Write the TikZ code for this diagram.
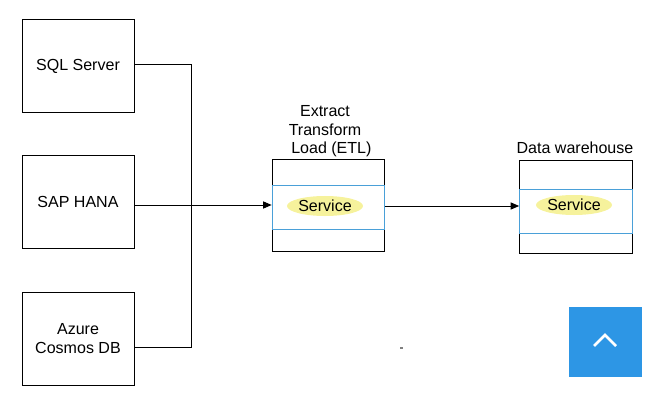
\documentclass[tikz,border=0pt]{standalone}
\usepackage{fontspec}
\setmainfont{Liberation Sans}
\usetikzlibrary{arrows.meta,shapes.geometric}
\definecolor{svcblue}{HTML}{4AA0D8}
\definecolor{hilite}{HTML}{F6F29C}
\definecolor{btnblue}{HTML}{2D96E5}
\tikzset{
  src/.style={draw, line width=0.6pt, minimum width=2.8cm, minimum height=2.33cm,
    align=center, font=\fontsize{11.4}{13.5}\selectfont},
  stage/.style={draw, line width=0.6pt, minimum width=2.82cm, minimum height=2.32cm},
  band/.style={draw=svcblue, line width=0.6pt, minimum width=2.82cm, minimum height=1.1cm},
  svc/.style={ellipse, fill=hilite, inner sep=0pt, minimum width=1.9cm, minimum height=0.5cm,
    font=\fontsize{11.4}{13.5}\selectfont},
  ttl/.style={align=center, font=\fontsize{11.4}{13.2}\selectfont},
  arr/.style={-{Triangle[length=6pt,width=5pt]}, line width=0.6pt}
}
\begin{document}
\begin{tikzpicture}[x=0.025cm,y=-0.025cm]
\useasboundingbox (0,0) rectangle (647,414);

% Sources
\node[src] (sql) at (78,66) {SQL Server};
\node[src] (sap) at (78,202) {SAP HANA};
\node[src] (azure) at (78,339) {Azure\\Cosmos DB};

% ETL stage
\node[stage] (etl) at (328.5,205.5) {};
\node[band] (etlband) at (328.5,207) {};
\node[svc] (etlsvc) at (325,206) {Service};
\node[ttl] (etltitle) at (325,131.5) {Extract\\Transform\\\hspace{0.8em}Load (ETL)};

% Data warehouse
\node[stage] (dw) at (576,207) {};
\node[band] (dwband) at (576,211) {};
\node[svc] (dwsvc) at (574,205) {Service};
\node[ttl] (dwtitle) at (575,148) {Data warehouse};

% Collector line from the sources
\coordinate (busT) at (191,64);
\coordinate (busB) at (191,347);
\coordinate (feed) at (191,205);
\draw[line width=0.6pt] (sql.east |- busT) -- (busT) -- (busB) -- (azure.east |- busB);
\draw[arr] (sap.east |- feed) -- (etl.west |- feed);
\draw[arr] (etl.east |- etlsvc) -- (dw.west |- etlsvc);

% stray mark
\draw[gray, line width=0.8pt] (400,348) -- (403,348);

% Scroll-up button
\fill[btnblue] (569,307) rectangle (642,377);
\draw[white, line width=2pt] (594,346) -- (605,335) -- (616,346);
\end{tikzpicture}
\end{document}
